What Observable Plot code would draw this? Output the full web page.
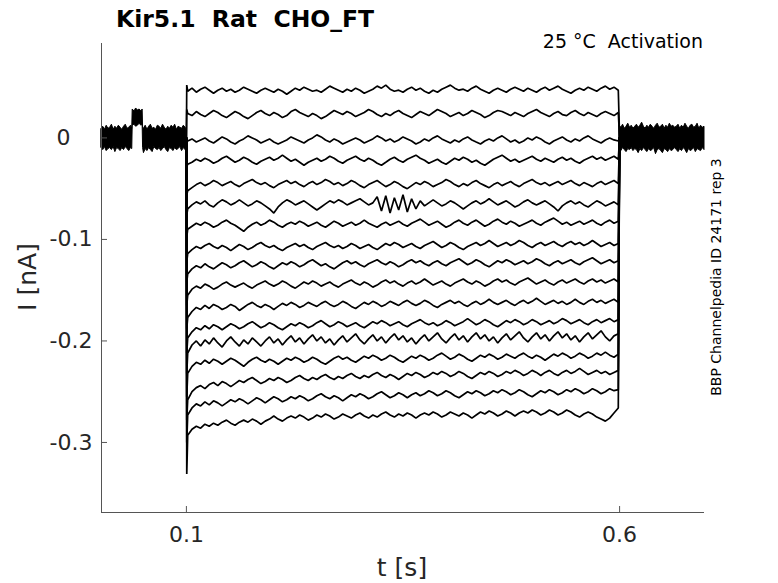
<!DOCTYPE html>
<html><head><meta charset="utf-8">
<script src="https://cdn.jsdelivr.net/npm/d3@7"></script>
<script src="https://cdn.jsdelivr.net/npm/@observablehq/plot@0.6"></script>
<style>body{margin:0;background:#fff}svg{display:block}</style>
</head><body><div id="chart"></div>
<script>
// Currents during the voltage step (pA), sampled evenly from t=0.1 s to t=0.6 s
const T1 = [46,49,45,48,50,47,44,47,49,46,48,45,47,50,48,46,44,47,49,47,45,48,46,43,46,49,47,50,48,46,47,45,48,51,49,47,45,48,46,49,47,44,46,48,51,49,52,48,46,47,45,48,50,47,49,46,44,47,45,48,50,52,49,47,48,46,49,51,48,46,44,47,49,47,45,48,50,48,46,49,47,45,48,50,47,49,51,48,46,44,47,49,47,50,48,46,49,51,48,50,47];
const T2 = [24,22,26,23,21,24,27,25,22,20,23,26,24,21,19,22,25,27,24,22,25,23,20,22,26,28,25,23,21,24,22,19,21,24,27,25,23,26,24,21,23,25,28,26,23,21,24,22,25,27,24,22,20,23,26,24,22,25,28,26,24,21,23,25,22,24,27,25,23,20,22,25,27,26,24,22,25,23,21,24,26,28,25,23,21,24,26,23,22,25,27,24,22,25,23,21,24,26,24,22,25];
const T3 = [-3,-1,-4,-2,0,-3,-5,-2,1,-1,-4,-6,-3,-1,2,0,-2,-5,-3,-1,-4,-6,-4,-2,1,-1,-3,-5,-2,0,3,1,-2,-4,-1,-3,-6,-4,-2,0,-2,-5,-3,-1,2,0,-3,-1,-4,-2,1,-1,-3,-6,-4,-1,-3,0,2,-1,-3,-5,-2,-4,-1,1,-2,-4,-6,-3,-1,-3,0,2,-1,-4,-2,-5,-3,0,-2,1,-1,-4,-6,-3,-1,1,-2,-4,-1,-3,0,2,-1,-3,-5,-2,0,-2,-3];
const T4 = [-26,-24,-21,-23,-20,-22,-25,-23,-20,-18,-21,-24,-22,-19,-21,-24,-26,-23,-21,-19,-22,-20,-17,-20,-23,-21,-24,-27,-24,-22,-20,-23,-21,-18,-20,-23,-25,-22,-20,-18,-21,-23,-20,-22,-25,-27,-24,-21,-19,-22,-24,-21,-19,-17,-20,-22,-25,-23,-21,-24,-26,-23,-20,-22,-19,-21,-24,-22,-25,-27,-24,-21,-19,-17,-20,-23,-21,-24,-22,-20,-18,-21,-23,-20,-22,-24,-21,-19,-22,-20,-23,-25,-22,-20,-18,-21,-19,-22,-20,-18,-21];
const T5 = [-52,-49,-46,-44,-47,-45,-42,-44,-47,-45,-43,-46,-48,-45,-43,-41,-44,-46,-44,-47,-49,-46,-44,-42,-45,-43,-46,-48,-45,-43,-46,-44,-41,-43,-46,-44,-47,-45,-42,-44,-47,-49,-46,-44,-42,-45,-48,-46,-43,-45,-48,-50,-47,-44,-46,-43,-45,-48,-46,-44,-41,-43,-46,-48,-45,-47,-44,-42,-45,-47,-49,-46,-44,-47,-45,-43,-46,-48,-45,-43,-41,-44,-46,-44,-47,-45,-43,-46,-44,-42,-45,-47,-44,-46,-48,-45,-43,-46,-44,-42,-45];
const T6 = [-70,-66,-63,-65,-62,-66,-68,-64,-61,-63,-66,-64,-61,-64,-67,-65,-62,-64,-67,-70,-74,-68,-64,-61,-63,-66,-64,-62,-65,-68,-71,-68,-65,-62,-64,-61,-63,-66,-64,-62,-60,-63,-66,-64,-58,-72,-57,-74,-59,-71,-56,-73,-60,-70,-62,-67,-64,-61,-64,-67,-65,-62,-64,-67,-70,-67,-64,-62,-65,-63,-60,-63,-66,-64,-62,-65,-68,-66,-63,-61,-64,-66,-64,-62,-65,-68,-72,-67,-64,-62,-65,-63,-66,-68,-65,-62,-64,-67,-65,-63,-66];
const T7 = [-90,-87,-84,-86,-83,-85,-88,-86,-83,-81,-84,-86,-89,-92,-88,-85,-83,-86,-84,-81,-83,-86,-88,-85,-83,-85,-82,-84,-87,-85,-83,-86,-88,-85,-82,-84,-87,-85,-83,-86,-84,-81,-84,-86,-88,-85,-83,-86,-84,-82,-85,-87,-84,-82,-80,-83,-86,-84,-82,-85,-88,-86,-83,-81,-84,-86,-83,-81,-84,-87,-85,-82,-80,-83,-85,-82,-84,-87,-85,-83,-81,-84,-86,-83,-81,-79,-82,-85,-83,-86,-84,-82,-85,-83,-81,-84,-86,-83,-81,-84,-82];
const T8 = [-114,-110,-107,-109,-106,-104,-107,-109,-106,-108,-111,-108,-105,-107,-110,-108,-105,-103,-106,-108,-106,-109,-111,-108,-106,-104,-107,-105,-108,-110,-107,-105,-103,-106,-108,-106,-109,-107,-104,-106,-109,-107,-105,-108,-110,-107,-104,-106,-103,-105,-108,-106,-104,-107,-109,-106,-104,-102,-105,-108,-106,-103,-105,-108,-110,-107,-105,-103,-106,-104,-101,-104,-107,-105,-103,-106,-104,-101,-103,-106,-108,-105,-103,-106,-104,-102,-105,-107,-104,-102,-105,-103,-106,-104,-101,-104,-107,-105,-103,-106,-104];
const T9 = [-134,-129,-126,-128,-124,-127,-129,-126,-123,-125,-128,-126,-123,-121,-124,-127,-125,-122,-124,-127,-129,-126,-123,-125,-122,-124,-127,-125,-122,-120,-123,-126,-124,-127,-129,-126,-123,-121,-124,-122,-125,-127,-124,-122,-120,-123,-125,-122,-124,-127,-125,-122,-120,-123,-121,-124,-126,-123,-121,-124,-126,-123,-121,-119,-122,-125,-123,-120,-122,-125,-127,-124,-121,-123,-120,-122,-125,-123,-121,-124,-122,-119,-121,-124,-126,-123,-121,-124,-122,-120,-123,-125,-122,-120,-118,-121,-124,-122,-120,-123,-121];
const T10 = [-155,-149,-146,-148,-144,-146,-149,-147,-144,-142,-145,-147,-145,-143,-146,-148,-145,-143,-141,-144,-146,-144,-141,-143,-146,-148,-145,-142,-144,-141,-143,-146,-144,-142,-145,-147,-144,-142,-140,-143,-145,-142,-144,-147,-145,-142,-140,-143,-141,-144,-146,-143,-141,-144,-142,-139,-142,-145,-143,-141,-144,-146,-143,-141,-139,-142,-144,-141,-143,-146,-144,-141,-139,-142,-140,-143,-145,-142,-140,-138,-141,-144,-142,-140,-143,-145,-142,-140,-143,-141,-139,-142,-144,-141,-139,-142,-140,-143,-141,-139,-142];
const T11 = [-177,-171,-167,-169,-165,-168,-164,-166,-169,-167,-164,-166,-170,-167,-164,-162,-165,-167,-164,-166,-169,-166,-163,-165,-162,-164,-167,-165,-162,-164,-166,-163,-161,-164,-166,-164,-161,-163,-166,-168,-165,-162,-164,-161,-163,-166,-164,-161,-163,-165,-162,-160,-163,-165,-163,-160,-162,-165,-167,-164,-162,-160,-163,-161,-164,-166,-163,-161,-164,-162,-159,-162,-164,-162,-160,-163,-165,-162,-160,-163,-161,-158,-161,-164,-162,-160,-163,-161,-164,-162,-159,-162,-164,-161,-159,-162,-160,-163,-161,-159,-162];
const T12 = [-197,-191,-187,-189,-185,-188,-184,-186,-189,-186,-183,-185,-188,-186,-183,-181,-184,-187,-185,-182,-184,-187,-189,-186,-183,-185,-182,-184,-187,-185,-182,-180,-183,-186,-184,-181,-183,-186,-184,-182,-185,-187,-184,-181,-183,-180,-182,-185,-183,-181,-184,-186,-183,-181,-179,-182,-184,-182,-185,-183,-180,-182,-185,-183,-181,-178,-181,-184,-182,-179,-181,-184,-186,-183,-180,-182,-179,-181,-184,-182,-179,-181,-184,-182,-180,-183,-181,-178,-180,-183,-181,-179,-182,-184,-181,-179,-182,-180,-178,-181,-179];
const T13 = [-212,-204,-200,-205,-199,-203,-197,-202,-206,-200,-196,-201,-205,-199,-203,-197,-201,-205,-200,-196,-202,-198,-204,-199,-195,-201,-197,-203,-198,-194,-200,-196,-202,-198,-204,-199,-195,-201,-197,-193,-199,-203,-198,-194,-200,-196,-202,-197,-193,-199,-195,-201,-197,-203,-198,-194,-200,-196,-192,-198,-202,-197,-193,-199,-195,-201,-196,-192,-198,-194,-200,-196,-202,-197,-193,-199,-195,-191,-197,-201,-196,-192,-198,-194,-200,-195,-191,-197,-193,-199,-195,-201,-196,-192,-198,-194,-190,-196,-200,-195,-193];
const T14 = [-232,-225,-221,-223,-219,-222,-218,-220,-223,-220,-217,-219,-222,-225,-221,-218,-216,-219,-221,-218,-220,-223,-220,-217,-219,-216,-218,-221,-219,-216,-218,-221,-223,-220,-217,-215,-218,-216,-219,-221,-218,-215,-217,-214,-216,-219,-217,-214,-216,-219,-221,-218,-215,-217,-214,-216,-219,-217,-214,-212,-215,-218,-216,-213,-215,-218,-220,-217,-214,-216,-213,-215,-218,-216,-213,-215,-217,-214,-212,-215,-217,-214,-216,-219,-216,-213,-215,-212,-214,-217,-215,-212,-214,-217,-215,-212,-214,-211,-214,-216,-213];
const T15 = [-258,-250,-246,-244,-247,-243,-241,-244,-240,-242,-245,-242,-239,-241,-238,-236,-239,-242,-240,-237,-239,-236,-238,-241,-239,-236,-234,-237,-239,-236,-238,-235,-233,-236,-238,-235,-237,-234,-232,-235,-237,-234,-236,-233,-231,-234,-236,-233,-235,-238,-235,-232,-234,-231,-233,-236,-234,-231,-233,-230,-232,-235,-233,-230,-232,-235,-237,-234,-231,-233,-230,-232,-235,-233,-230,-232,-229,-231,-234,-232,-229,-231,-234,-231,-229,-232,-234,-231,-229,-232,-230,-227,-230,-233,-231,-229,-232,-230,-233,-231,-229];
const T16 = [-273,-266,-262,-264,-260,-263,-259,-261,-264,-261,-258,-260,-257,-259,-262,-259,-256,-258,-261,-258,-255,-257,-260,-258,-255,-257,-254,-256,-259,-257,-254,-252,-255,-257,-254,-256,-259,-256,-253,-255,-252,-254,-257,-255,-252,-250,-253,-256,-254,-251,-253,-256,-253,-251,-254,-252,-249,-251,-254,-252,-249,-251,-254,-256,-253,-250,-252,-249,-251,-254,-252,-249,-251,-248,-250,-253,-251,-248,-250,-253,-255,-252,-249,-251,-248,-250,-253,-251,-248,-250,-247,-249,-252,-250,-247,-249,-252,-250,-247,-249,-248];
const T17 = [-293,-287,-284,-286,-282,-284,-281,-283,-280,-278,-281,-283,-280,-278,-280,-277,-279,-282,-279,-277,-274,-277,-279,-276,-274,-276,-273,-275,-278,-276,-273,-275,-272,-274,-277,-275,-272,-274,-276,-273,-271,-274,-276,-273,-275,-272,-270,-273,-275,-272,-274,-271,-273,-276,-273,-271,-273,-270,-272,-275,-273,-270,-272,-274,-271,-273,-276,-273,-270,-272,-269,-271,-274,-272,-269,-271,-274,-271,-269,-271,-268,-270,-273,-271,-268,-270,-273,-271,-268,-270,-273,-275,-272,-270,-272,-275,-277,-279,-276,-271,-266];
const traces = [T1,T2,T3,T4,T5,T6,T7,T8,T9,T10,T11,T12,T13,T14,T15,T16,T17];
// capacitive transient peak at step onset (pA)
const peaks = [52,28,-4,-28,-56,-76,-98,-122,-142,-165,-188,-212,-232,-255,-278,-300,-331];

// holding-current noise envelope before the step (s, pA)
const preT  = [0.002,0.004,0.006,0.008,0.010,0.012,0.014,0.016,0.018,0.020,0.022,0.024,0.026,0.028,0.030,0.032,0.034,0.036,0.0375,0.038,0.040,0.042,0.044,0.046,0.048,0.0495,0.050,0.051,0.053,0.055,0.057,0.059,0.061,0.063,0.065,0.067,0.069,0.071,0.073,0.075,0.077,0.079,0.081,0.083,0.085,0.087,0.089,0.091,0.093,0.095,0.097,0.099,0.1];
const preHi = [9,11,8,12,9,10,13,8,11,9,12,10,8,11,13,9,10,12,9,28,26,29,27,28,26,28,10,9,12,8,11,13,9,10,8,12,11,9,13,10,8,11,9,12,10,13,8,11,10,9,12,10,9];
const preLo = [-10,-12,-9,-13,-11,-10,-12,-9,-14,-10,-11,-13,-10,-12,-9,-11,-13,-10,-11,12,13,11,12,14,12,13,-10,-15,-11,-13,-10,-12,-14,-9,-11,-12,-10,-13,-11,-9,-12,-14,-10,-11,-13,-10,-12,-11,-9,-13,-10,-12,-11];
// envelope after the step
const postT  = [0.6,0.602,0.604,0.606,0.608,0.610,0.612,0.614,0.616,0.618,0.620,0.622,0.624,0.626,0.628,0.630,0.632,0.634,0.636,0.638,0.640,0.642,0.644,0.646,0.648,0.650,0.652,0.654,0.656,0.658,0.660,0.662,0.664,0.666,0.668,0.670,0.672,0.674,0.676,0.678,0.680,0.682,0.684,0.686,0.688,0.690,0.692,0.694,0.696,0.698];
const postHi = [12,10,13,9,11,14,10,12,9,11,13,10,12,15,11,9,12,10,13,11,9,12,14,10,11,13,9,12,10,14,11,12,10,11,13,9,12,10,14,11,9,12,13,10,11,14,9,12,10,11];
const postLo = [-11,-13,-10,-12,-14,-11,-12,-10,-13,-11,-12,-15,-11,-13,-10,-12,-14,-11,-13,-12,-10,-16,-12,-11,-13,-15,-11,-12,-14,-11,-13,-12,-10,-12,-14,-11,-13,-10,-12,-15,-11,-13,-12,-10,-14,-11,-12,-13,-10,-12];

const stepOn = 0.1, stepOff = 0.6;
const xTicks = [0.1, 0.6], xTickLabels = ["0.1", "0.6"];
const yTicks = [0, -0.1, -0.2, -0.3], yTickLabels = ["0", "-0.1", "-0.2", "-0.3"];
const xDomain = [0.002, 0.698], yDomain = [-0.369, 0.093];

const rows = [];
traces.forEach((vals, k) => {
  rows.push({k, t: stepOn, i: 0});
  rows.push({k, t: stepOn + 0.0004, i: peaks[k] / 1000});
  const n = vals.length, t0 = stepOn + 0.0015, t1 = stepOff - 0.0015;
  vals.forEach((v, j) => rows.push({k, t: t0 + j * (t1 - t0) / (n - 1), i: v / 1000}));
  rows.push({k, t: stepOff, i: 0});
});
const pre = preT.map((t, j) => ({t, hi: preHi[j] / 1000, lo: preLo[j] / 1000}));
const post = postT.map((t, j) => ({t, hi: postHi[j] / 1000, lo: postLo[j] / 1000}));

const W = 778, H = 583, mL = 101, mR = 74, mT = 43, mB = 71;
const fw = W - mL - mR, fh = H - mT - mB;
const axisColor = "#555", textColor = "#262626";

const svg = Plot.plot({
  width: W, height: H, marginLeft: mL, marginRight: mR, marginTop: mT, marginBottom: mB,
  x: {domain: xDomain, axis: null},
  y: {domain: yDomain, axis: null},
  style: {fontFamily: "DejaVu Sans", background: "white", overflow: "visible"},
  marks: [
    Plot.areaY(pre, {x: "t", y1: "lo", y2: "hi", fill: "black", stroke: "black", strokeWidth: 1}),
    Plot.areaY(post, {x: "t", y1: "lo", y2: "hi", fill: "black", stroke: "black", strokeWidth: 1}),
    Plot.line(rows, {x: "t", y: "i", z: "k", stroke: "black", strokeWidth: 1.7, strokeLinejoin: "miter"}),
    Plot.ruleX([xDomain[0]], {stroke: axisColor}),
    Plot.ruleY([yDomain[0]], {stroke: axisColor}),
    Plot.tickY(yTicks, {y: d => d, stroke: axisColor, insetRight: fw - 6}),
    Plot.tickX(xTicks, {x: d => d, stroke: axisColor, insetTop: fh - 6}),
    Plot.text(yTicks.filter(d => d !== 0), {x: xDomain[0], y: d => d, text: d => yTickLabels[yTicks.indexOf(d)], textAnchor: "end", dx: -9, fontSize: 22, fill: textColor}),
    Plot.text(yTicks.filter(d => d === 0), {x: xDomain[0], y: d => d, text: d => yTickLabels[yTicks.indexOf(d)], textAnchor: "end", dx: -31, fontSize: 22, fill: textColor}),
    Plot.text(xTicks, {x: d => d, y: yDomain[0], text: d => xTickLabels[xTicks.indexOf(d)], dy: 22, fontSize: 22, fill: textColor})
  ]
});

const s = d3.select(svg);
const addText = (txt, x, y, opts) => {
  const el = s.append("text").attr("x", x).attr("y", y).text(txt)
    .attr("fill", opts.fill || textColor)
    .attr("font-size", opts.size).attr("font-family", "DejaVu Sans")
    .attr("text-anchor", opts.anchor || "start")
    .style("white-space", "pre");
  if (opts.bold) el.attr("font-weight", "bold");
  if (opts.rotate) el.attr("transform", `rotate(-90 ${x} ${y})`);
  return el;
};
addText("Kir5.1  Rat  CHO_FT", 116, 27, {size: 23.5, bold: true, fill: "#000"});
addText("25 °C  Activation", 703, 48, {size: 19, anchor: "end", fill: "#000"});
addText("BBP Channelpedia ID 24171 rep 3", 721, 277, {size: 14, anchor: "middle", rotate: true, fill: "#000"});
addText("I [nA]", 36, 277, {size: 25, anchor: "middle", rotate: true});
addText("t [s]", 402, 576, {size: 25, anchor: "middle"});

document.getElementById("chart").appendChild(svg);
</script>
</body></html>
